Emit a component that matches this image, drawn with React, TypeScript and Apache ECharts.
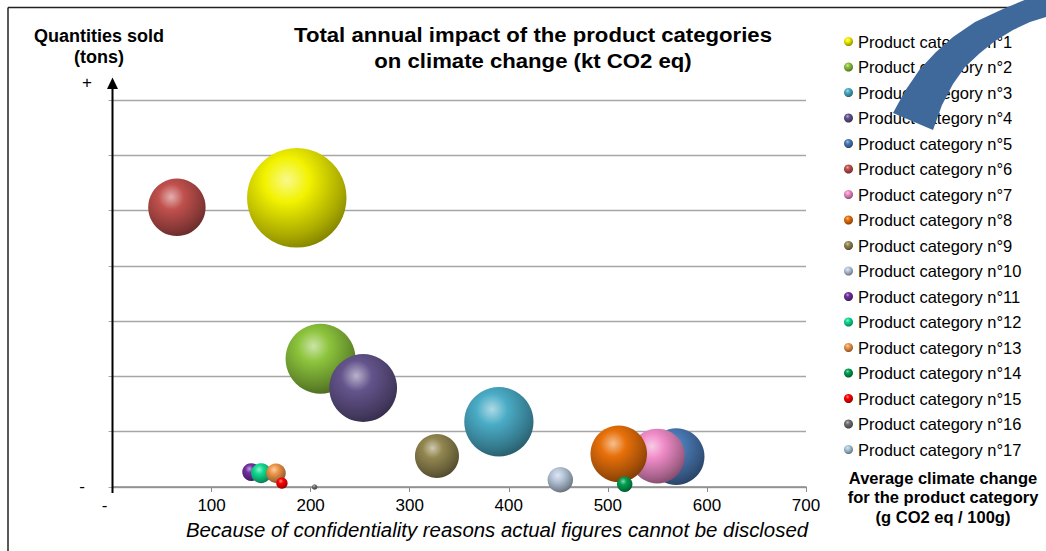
import { useEffect, useRef } from 'react';
import * as echarts from 'echarts';

const categories = [
  'Product category n°1', 'Product category n°2', 'Product category n°3', 'Product category n°4',
  'Product category n°5', 'Product category n°6', 'Product category n°7', 'Product category n°8',
  'Product category n°9', 'Product category n°10', 'Product category n°11', 'Product category n°12',
  'Product category n°13', 'Product category n°14', 'Product category n°15', 'Product category n°16',
  'Product category n°17',
];
// average climate change (g CO2 eq / 100g)
const avgClimateChange = [186, 210, 390, 253, 569, 65, 550, 511, 327.5, 452, 140, 150, 165, 517, 171, 204, 0];
// quantities sold (relative units)
const quantitiesSold = [5.23, 2.32, 1.18, 1.79, 0.55, 5.06, 0.56, 0.6, 0.56, 0.13, 0.27, 0.25, 0.25, 0.05, 0.07, 0.0, 0];
// total annual impact (relative, bubble area)
const totalImpact = [99, 49, 48, 46, 32, 33, 30, 32, 19.4, 6.5, 3.2, 4, 3.8, 2.4, 1.3, 0.3, 0];
const colors = [
  '#F2F200', '#8CC43C', '#4AACC6', '#64548C', '#4A7AB5', '#C0504D', '#F08CC8', '#E8700A',
  '#928650', '#B8C8DC', '#7030A0', '#10DC90', '#F0964A', '#00A050', '#FF0000', '#707070', '#A8C8D8',
];
const xMin = 0;
const xMax = 700;
const xStep = 100;
const yMin = 0;
const yMax = 7;

const FONT = '"Liberation Sans", Arial, Helvetica, sans-serif';

function mix(hex: string, target: string, t: number) {
  const p = (h: string) => [1, 3, 5].map((i) => parseInt(h.slice(i, i + 2), 16));
  const a = p(hex);
  const b = p(target);
  const c = a.map((v, i) => Math.round(v + (b[i] - v) * t));
  return '#' + c.map((v) => v.toString(16).padStart(2, '0')).join('');
}

function sphere(c: string) {
  return new echarts.graphic.RadialGradient(0.4, 0.32, 0.75, [
    { offset: 0, color: mix(c, '#ffffff', 0.55) },
    { offset: 0.3, color: c },
    { offset: 0.75, color: mix(c, '#000000', 0.3) },
    { offset: 1, color: mix(c, '#000000', 0.5) },
  ]);
}

function txt(text: string, x: number, y: number, font: string, scaleX = 1) {
  return {
    type: 'text',
    z: 50,
    x,
    y,
    scaleX,
    style: {
      text, x: 0, y: 0, font, fill: '#000',
      textAlign: 'center', align: 'center', textVerticalAlign: 'middle', verticalAlign: 'middle',
    },
  };
}

export default function App() {
  const ref = useRef<HTMLDivElement>(null);
  useEffect(() => {
    if (!ref.current) return;
    const chart = echarts.init(ref.current, undefined, { renderer: 'svg' });
    const series = categories.map((name, i) => ({
      name,
      type: 'scatter',
      data: [[avgClimateChange[i], quantitiesSold[i], totalImpact[i]]],
      symbolSize: (d: number[]) => 10 * Math.sqrt(d[2]),
      itemStyle: { color: sphere(colors[i]), opacity: 1 },
      emphasis: { disabled: true },
      z: 2 + i * 0.01,
    }));

    const arrowOuter = [
      [893, 113], [905, 91], [920, 69], [936, 52], [953, 37], [975, 22], [1003, 9], [1027, -1], [1052, -12],
    ];
    const arrowInner = [
      [1052, 15], [1030, 22], [1013, 30], [995, 41], [980, 53], [965, 67], [953, 84], [942, 105], [933, 130],
    ];

    chart.setOption({
      animation: false,
      backgroundColor: '#ffffff',
      grid: { left: 112.5, right: 240, top: 100, bottom: 64, containLabel: false },
      xAxis: {
        type: 'value',
        min: xMin,
        max: xMax,
        interval: xStep,
        axisLine: { show: true, lineStyle: { color: '#8C8C8C', width: 1.5 } },
        axisTick: { show: true, length: 5, lineStyle: { color: '#8C8C8C' } },
        splitLine: { show: false },
        axisLabel: {
          color: '#000',
          fontSize: 17,
          fontFamily: FONT,
          margin: 10,
          formatter: (v: number) => (v === 0 ? '{m|-}' : String(v)),
          rich: { m: { fontSize: 17, fontFamily: FONT, color: '#000', padding: [0, 16, 0, 0] } },
        },
      },
      yAxis: {
        type: 'value',
        min: yMin,
        max: yMax,
        interval: 1,
        axisLine: { show: false },
        axisTick: { show: true, length: 4, lineStyle: { color: '#A6A6A6' } },
        axisLabel: { show: false },
        splitLine: { show: true, lineStyle: { color: '#A6A6A6', width: 1.3 } },
      },
      legend: {
        orient: 'vertical',
        left: 844,
        top: 33,
        padding: 0,
        itemWidth: 9,
        itemHeight: 9,
        itemGap: 8.5,
        icon: 'circle',
        data: categories,
        selectedMode: false,
        textStyle: { fontSize: 16.5, fontFamily: FONT, color: '#000', lineHeight: 15 },
      },
      series,
      graphic: [
        { type: 'line', z: 60, shape: { x1: 8, y1: 7.5, x2: 1046, y2: 7.5 }, style: { stroke: '#222', lineWidth: 1.5 } },
        { type: 'line', z: 60, shape: { x1: 8, y1: 7.5, x2: 8, y2: 551 }, style: { stroke: '#222', lineWidth: 1.5 } },
        { type: 'line', z: 60, shape: { x1: 112.5, y1: 493, x2: 112.5, y2: 86 }, style: { stroke: '#000', lineWidth: 2 } },
        { type: 'polygon', z: 60, shape: { points: [[107, 89], [112.5, 77.5], [118, 89]] }, style: { fill: '#000' } },
        txt('+', 87, 82, `17px ${FONT}`),
        txt('-', 82, 486, `17px ${FONT}`),
        txt('Quantities sold', 99, 36, `bold 18px ${FONT}`),
        txt('(tons)', 99, 57, `bold 18px ${FONT}`),
        txt('Total annual impact of the product categories', 533, 35, `bold 20.5px ${FONT}`, 1.08),
        txt('on climate change (kt CO2 eq)', 533, 61, `bold 20.5px ${FONT}`, 1.08),
        txt('Because of confidentiality reasons actual figures cannot be disclosed', 497, 530, `italic 20px ${FONT}`, 1.02),
        txt('Average climate change', 943, 478, `bold 16.5px ${FONT}`),
        txt('for the product category', 943, 497, `bold 16.5px ${FONT}`),
        txt('(g CO2 eq / 100g)', 943, 517, `bold 16.5px ${FONT}`),
        {
          type: 'polygon',
          z: 100,
          shape: { points: [...arrowOuter, ...arrowInner] },
          style: { fill: '#40699B' },
        },
      ],
    });
    return () => chart.dispose();
  }, []);
  return (
    <div
      ref={ref}
      style={{ position: 'fixed', left: 0, top: 0, width: 1046, height: 551 }}
    />
  );
}
